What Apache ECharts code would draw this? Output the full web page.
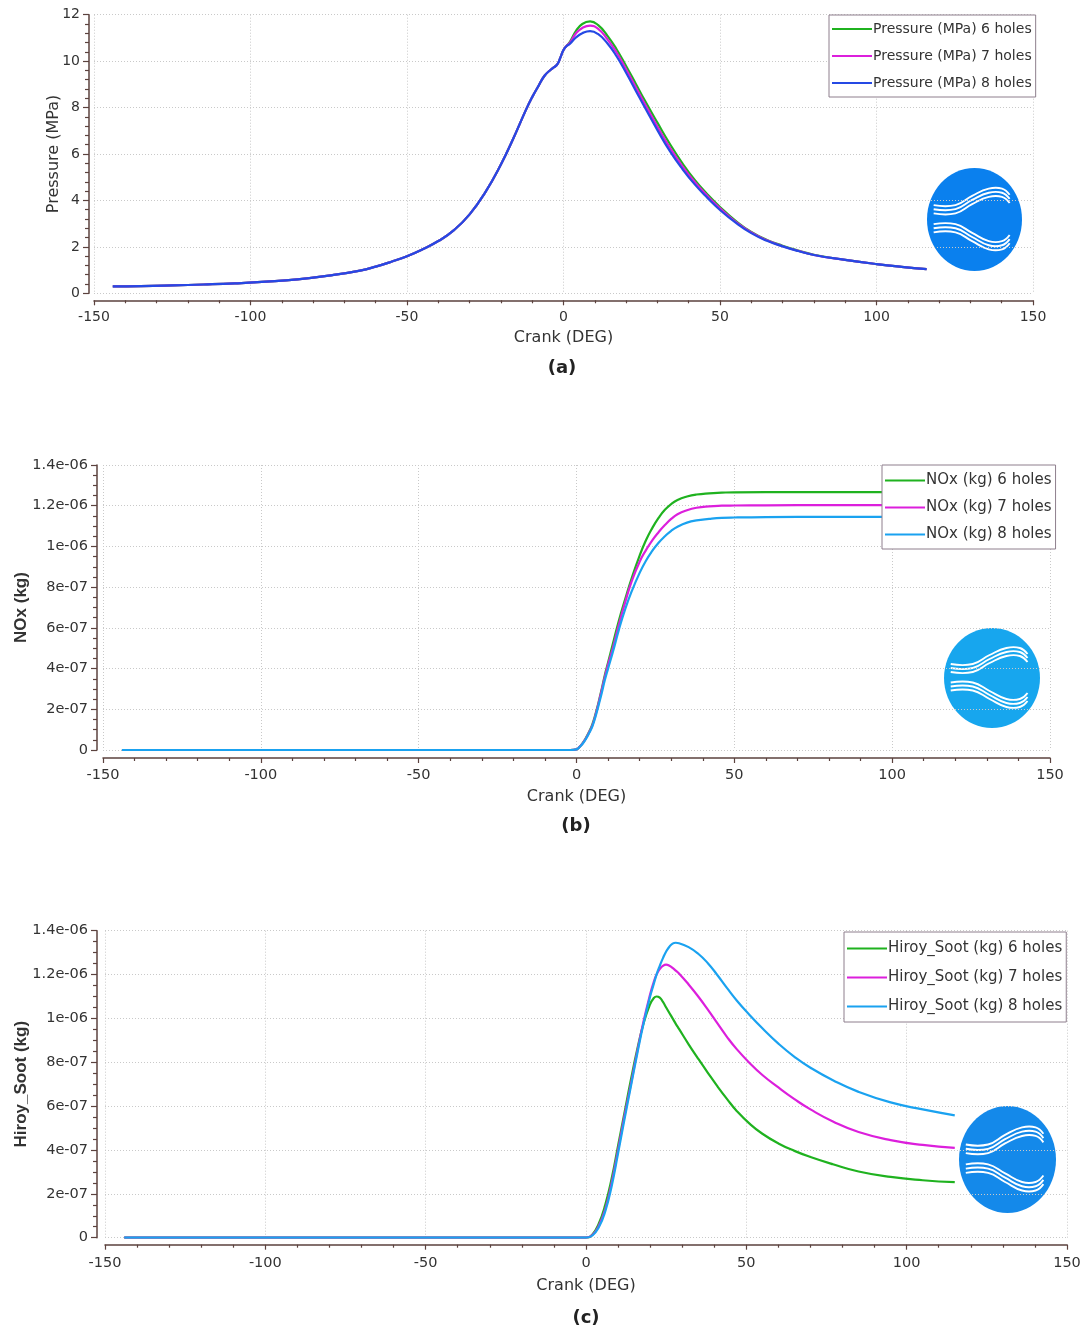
<!DOCTYPE html>
<html>
<head>
<meta charset="utf-8">
<script src="https://cdn.jsdelivr.net/npm/echarts@6/dist/echarts.min.js"></script>
<style>
  html, body { margin: 0; padding: 0; background: #fff; }
  #chart { width: 1084px; height: 1331px; }
</style>
</head>
<body>
<div id="chart"></div>
<script>
// ---- (a) cylinder pressure, MPa ----
const crankP = [-144, -135, -125, -115, -105, -95, -85, -75, -65, -60, -55, -50, -45, -40, -35, -30, -25, -20, -16, -12, -10, -8, -6, -4, -3, -2, -1, 0,
  1, 2, 4, 6, 8.5, 11, 14, 17, 20, 23, 26, 30, 34, 38, 42, 46, 50, 55, 60, 65, 70, 75, 80, 90, 100, 108, 116];
// compression stroke is identical for the three injectors
const pressureCompression = [0.30, 0.31, 0.34, 0.38, 0.43, 0.50, 0.60, 0.76, 0.98, 1.15, 1.36, 1.6, 1.9, 2.25, 2.72, 3.4, 4.35, 5.55, 6.68, 7.9, 8.45, 8.93, 9.38, 9.64, 9.74, 9.86, 10.15, 10.48];
const pressure6 = pressureCompression.concat([10.66, 10.82, 11.3, 11.6, 11.71, 11.56, 11.1, 10.5, 9.79, 9.05, 8.3, 7.35, 6.43, 5.6, 4.87, 4.26, 3.72, 3.12, 2.64, 2.3, 2.05, 1.84, 1.66, 1.44, 1.26, 1.14, 1.04]);
const pressure7 = pressureCompression.concat([10.66, 10.78, 11.2, 11.43, 11.53, 11.4, 10.95, 10.36, 9.65, 8.9, 8.15, 7.18, 6.27, 5.47, 4.78, 4.19, 3.66, 3.08, 2.62, 2.28, 2.03, 1.83, 1.65, 1.44, 1.26, 1.14, 1.04]);
const pressure8 = pressureCompression.concat([10.65, 10.74, 11.02, 11.2, 11.29, 11.17, 10.77, 10.2, 9.5, 8.75, 8.0, 7.03, 6.12, 5.35, 4.68, 4.11, 3.59, 3.04, 2.59, 2.26, 2.02, 1.82, 1.65, 1.44, 1.26, 1.14, 1.04]);

// ---- (b) cumulative NOx, values in 1e-6 kg ----
const crankN = [-144, -100, -50, -10, -2, 0, 1, 2, 3, 4, 5, 6, 7, 8, 9, 10, 11.5, 13.5, 15.5, 17.5, 20, 22, 24, 26, 28, 30, 32, 35, 38, 42, 46, 50, 60, 80, 100, 116];
const nox6 = [0, 0, 0, 0, 0, 0.003, 0.016, 0.035, 0.06, 0.09, 0.125, 0.175, 0.235, 0.3, 0.37, 0.43, 0.52, 0.64, 0.745, 0.845, 0.955, 1.03, 1.09, 1.14, 1.18, 1.208, 1.228, 1.245, 1.255, 1.261, 1.264, 1.266, 1.267, 1.267, 1.267, 1.267];
const nox7 = [0, 0, 0, 0, 0, 0.003, 0.016, 0.034, 0.058, 0.087, 0.12, 0.17, 0.23, 0.295, 0.36, 0.42, 0.5, 0.62, 0.73, 0.83, 0.925, 0.982, 1.03, 1.07, 1.105, 1.135, 1.158, 1.178, 1.19, 1.197, 1.2, 1.201, 1.202, 1.203, 1.203, 1.203];
const nox8 = [0, 0, 0, 0, 0, 0.003, 0.015, 0.032, 0.055, 0.083, 0.115, 0.163, 0.22, 0.28, 0.345, 0.4, 0.48, 0.595, 0.695, 0.78, 0.87, 0.93, 0.978, 1.018, 1.05, 1.077, 1.097, 1.117, 1.128, 1.135, 1.14, 1.142, 1.144, 1.145, 1.145, 1.145];

// ---- (c) Hiroyasu soot, values in 1e-6 kg ----
const crankS = [-144, -100, -50, -10, -2, 0, 2, 4, 6, 8, 10, 12, 14, 16,
  18, 20, 21, 22, 23, 24, 25, 26, 27, 28,
  29, 32, 35, 38, 41, 44, 47, 51, 55, 60, 65, 70, 77, 85, 95, 105, 115];
const soot6 = [0, 0, 0, 0, 0, 0, 0.015, 0.065, 0.15, 0.27, 0.42, 0.57, 0.72, 0.86,
  0.98, 1.065, 1.09, 1.10, 1.095, 1.075, 1.05, 1.025, 1.0, 0.975,
  0.952, 0.882, 0.816, 0.752, 0.69, 0.632, 0.578, 0.52, 0.474, 0.43, 0.396, 0.368, 0.335, 0.302, 0.277, 0.262, 0.253];
const soot7 = [0, 0, 0, 0, 0, 0, 0.012, 0.055, 0.13, 0.25, 0.4, 0.555, 0.7, 0.85,
  0.99, 1.11, 1.16, 1.2, 1.225, 1.24, 1.245, 1.24, 1.23, 1.218,
  1.205, 1.155, 1.1, 1.04, 0.977, 0.915, 0.86, 0.797, 0.742, 0.685, 0.632, 0.585, 0.53, 0.482, 0.445, 0.423, 0.41];
const soot8 = [0, 0, 0, 0, 0, 0, 0.01, 0.048, 0.12, 0.235, 0.385, 0.54, 0.69, 0.84,
  0.98, 1.10, 1.15, 1.20, 1.24, 1.275, 1.305, 1.327, 1.341, 1.345,
  1.343, 1.325, 1.295, 1.252, 1.197, 1.138, 1.082, 1.016, 0.955, 0.885, 0.825, 0.775, 0.718, 0.665, 0.617, 0.585, 0.558];

const pressureNames = ['Pressure (MPa) 6 holes', 'Pressure (MPa) 7 holes', 'Pressure (MPa) 8 holes'];
const noxNames = ['NOx (kg) 6 holes', 'NOx (kg) 7 holes', 'NOx (kg) 8 holes'];
const sootNames = ['Hiroy_Soot (kg) 6 holes', 'Hiroy_Soot (kg) 7 holes', 'Hiroy_Soot (kg) 8 holes'];
const panelTags = ['(a)', '(b)', '(c)'];

const GREEN = '#1fb21f';
const MAGENTA = '#dc1fdc';
const BLUE_A = '#2549e4';
const BLUE_BC = '#1aa2f0';

const FONT = 'DejaVu Sans';
const AXIS_COLOR = '#5b423e';
const TEXT = '#333333';
const GRIDLINE = { show: true, lineStyle: { color: '#c9c9c9', width: 1, type: [1, 2] } };

// kg labels in the 1e-06 / 1e-07 style of the simulation tool
function sciLabel(v) {
  const t = Math.round(v * 10);
  if (t === 0) return '0';
  if (t >= 10) return (t / 10) + 'e-06';
  return t + 'e-07';
}

function xAxisCfg(gi, offset, labelSize, labelMargin, nameGap) {
  return {
    gridIndex: gi, type: 'value', min: -150, max: 150, interval: 50, offset: offset,
    name: 'Crank (DEG)', nameLocation: 'middle', nameGap: nameGap, nameMoveOverlap: false,
    nameTextStyle: { fontFamily: FONT, fontSize: 16, color: TEXT },
    axisLine: { show: true, onZero: false, lineStyle: { color: AXIS_COLOR, width: 1.5 } },
    axisTick: { show: true, length: 5, lineStyle: { color: AXIS_COLOR, width: 1.2 } },
    minorTick: { show: true, splitNumber: 5, length: 3, lineStyle: { color: AXIS_COLOR, width: 1.2 } },
    axisLabel: { fontFamily: FONT, fontSize: labelSize, color: TEXT, margin: labelMargin },
    splitLine: GRIDLINE
  };
}

function yAxisCfg(gi, max, interval, minorSplit, offset, name, nameStyle, nameGap, labelSize, formatter) {
  return {
    gridIndex: gi, type: 'value', min: 0, max: max, interval: interval, offset: offset,
    name: name, nameLocation: 'middle', nameGap: nameGap, nameMoveOverlap: false, nameTextStyle: nameStyle,
    axisLine: { show: true, onZero: false, lineStyle: { color: AXIS_COLOR, width: 1.5 } },
    axisTick: { show: true, length: 6, lineStyle: { color: AXIS_COLOR, width: 1.2 } },
    minorTick: { show: true, splitNumber: minorSplit, length: 4, lineStyle: { color: AXIS_COLOR, width: 1.2 } },
    axisLabel: { fontFamily: FONT, fontSize: labelSize, color: TEXT, margin: 9, formatter: formatter },
    splitLine: GRIDLINE
  };
}

function legendCfg(names, left, top, fontSize, gap, pad) {
  return {
    data: names, orient: 'vertical', left: left, top: top, selectedMode: false,
    icon: 'rect', itemWidth: 40, itemHeight: 2, itemGap: gap,
    backgroundColor: '#ffffff', borderColor: '#8e7f8d', borderWidth: 1, borderRadius: 0,
    padding: pad,
    textStyle: { fontFamily: FONT, fontSize: fontSize, color: TEXT, padding: [0, 0, 0, -4] }
  };
}

function lineSeries(name, color, xs, ys, gi) {
  return {
    name: name, type: 'line', xAxisIndex: gi, yAxisIndex: gi,
    data: xs.map((x, i) => [x, ys[i]]),
    showSymbol: false, symbol: 'none', smooth: 0.5,
    lineStyle: { color: color, width: 2.2 }, itemStyle: { color: color },
    animation: false
  };
}

// round badge with two bundles of white flow lines
function logo(cx, cy, rx, ry, fill) {
  const kids = [{ type: 'ellipse', shape: { cx: 0, cy: 0, rx: rx, ry: ry }, style: { fill: fill } }];
  const upper = [[-0.86, -0.2], [-0.4, -0.2], [-0.05, -0.38], [0.3, -0.52], [0.58, -0.52], [0.74, -0.4]];
  const lower = [[-0.86, 0.17], [-0.4, 0.17], [-0.05, 0.34], [0.3, 0.5], [0.58, 0.5], [0.74, 0.38]];
  [upper, lower].forEach(path => {
    [-0.08, 0, 0.08].forEach(d => {
      kids.push({
        type: 'polyline',
        shape: { points: path.map(p => [p[0] * rx, (p[1] + d) * ry]), smooth: 0.45 },
        style: { stroke: '#ffffff', lineWidth: 1.9, fill: null }
      });
    });
  });
  return { type: 'group', x: cx, y: cy, children: kids, z: 1 };
}

function tag(text, x, y) {
  return {
    type: 'text', x: x, y: y,
    style: { text: text, fontFamily: FONT, fontWeight: 'bold', fontSize: 18, fill: '#222', textAlign: 'center', textVerticalAlign: 'middle' }
  };
}

const chart = echarts.init(document.getElementById('chart'), null, { renderer: 'canvas' });

const option = {
  backgroundColor: '#ffffff',
  animation: false,
  grid: [
    { left: 94, right: 51, top: 14.7, height: 278.6, containLabel: false, outerBoundsMode: 'none' },
    { left: 103, right: 34, top: 465, height: 285, containLabel: false, outerBoundsMode: 'none' },
    { left: 105, right: 17, top: 930.7, height: 307, containLabel: false, outerBoundsMode: 'none' }
  ],
  xAxis: [
    xAxisCfg(0, 7, 14, 10, 30),
    xAxisCfg(1, 8, 14.5, 10, 31),
    xAxisCfg(2, 7, 14.5, 11, 33)
  ],
  yAxis: [
    yAxisCfg(0, 12, 2, 5, 5, 'Pressure (MPa)',
      { fontFamily: FONT, fontSize: 16, color: TEXT }, 27, 14, v => String(Math.round(v))),
    yAxisCfg(1, 1.4, 0.2, 4, 6, 'NOx (kg)',
      { fontFamily: 'Liberation Sans', fontWeight: 'bold', fontSize: 17, color: TEXT }, 67, 14.5, sciLabel),
    yAxisCfg(2, 1.4, 0.2, 4, 8, 'Hiroy_Soot (kg)',
      { fontFamily: 'Liberation Sans', fontWeight: 'bold', fontSize: 17, color: TEXT }, 67, 14.5, sciLabel)
  ],
  legend: [
    legendCfg(pressureNames, 829, 15, 14, 13, [7, 4, 7, 3]),
    legendCfg(noxNames, 882, 465, 15, 12, [8, 4, 7, 3]),
    legendCfg(sootNames, 844, 932, 15, 14, [9, 4, 8, 3])
  ],
  series: [
    lineSeries(pressureNames[0], GREEN, crankP, pressure6, 0),
    lineSeries(pressureNames[1], MAGENTA, crankP, pressure7, 0),
    lineSeries(pressureNames[2], BLUE_A, crankP, pressure8, 0),
    lineSeries(noxNames[0], GREEN, crankN, nox6, 1),
    lineSeries(noxNames[1], MAGENTA, crankN, nox7, 1),
    lineSeries(noxNames[2], BLUE_BC, crankN, nox8, 1),
    lineSeries(sootNames[0], GREEN, crankS, soot6, 2),
    lineSeries(sootNames[1], MAGENTA, crankS, soot7, 2),
    lineSeries(sootNames[2], BLUE_BC, crankS, soot8, 2)
  ],
  graphic: [
    logo(974.5, 219.5, 47.5, 51.5, '#0a80ee'),
    logo(992, 678, 48, 50, '#17a6ee'),
    logo(1007.5, 1159.5, 48.5, 53.5, '#1489ea'),
    tag(panelTags[0], 562, 368),
    tag(panelTags[1], 576, 826),
    tag(panelTags[2], 586, 1318)
  ]
};

chart.setOption(option);
</script>
</body>
</html>
